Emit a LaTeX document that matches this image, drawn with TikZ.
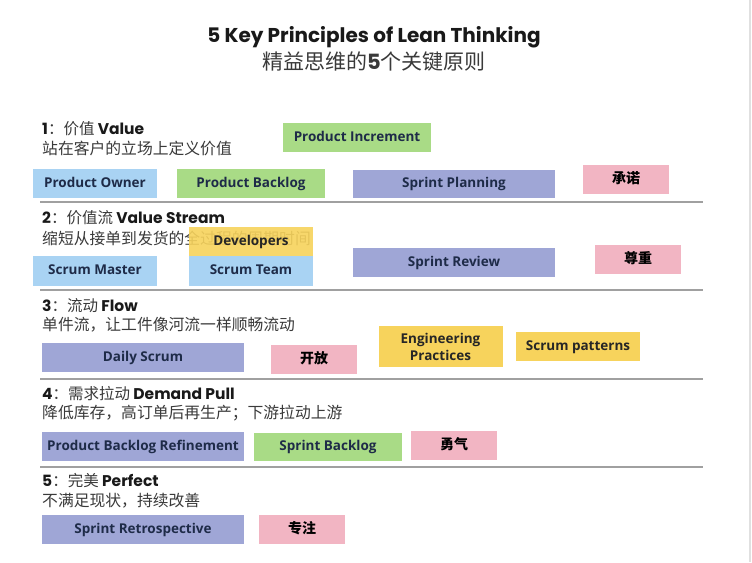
\documentclass[tikz,border=0pt]{standalone}
\usepackage{fontspec}
\setmainfont{Open Sans}
\newfontfamily\pop{Poppins}
\newfontfamily\cjk{Noto Sans CJK SC}
\definecolor{cblue}{HTML}{A9D3F3}
\definecolor{cgreen}{HTML}{A9DB86}
\definecolor{cpurple}{HTML}{9FA6D6}
\definecolor{cpink}{HTML}{F2B5C3}
\definecolor{cyellow}{HTML}{F7D35C}
\definecolor{cnavy}{HTML}{1E2B48}
\definecolor{cline}{HTML}{A0A0A0}
\definecolor{csub}{HTML}{3A3A3A}
\begin{document}
\begin{tikzpicture}[x=1pt,y=-1pt,
  box/.style={inner sep=0pt, minimum height=29pt, text=cnavy, font=\fontsize{13.5}{15}\selectfont\bfseries, align=center},
  one/.style={text height=10pt, text depth=3pt},
  bluebox/.style={box, one, fill=cblue, minimum width=124pt},
  greenbox/.style={box, one, fill=cgreen, minimum width=148pt},
  purplebox/.style={box, one, fill=cpurple, minimum width=202pt},
  pinkbox/.style={box, one, fill=cpink, minimum width=86pt, text=black, font=\cjk\fontsize{14}{15}\selectfont\bfseries},
  yellowbox/.style={box, fill=cyellow, minimum width=124pt, text=black!85},
  head/.style={anchor=west, inner sep=0pt, text=black!90},
  sub/.style={anchor=west, inner sep=0pt, text=csub, font=\cjk\fontsize{15.8}{17}\selectfont},
  sep/.style={draw=cline, line width=1.4pt}
]
\useasboundingbox (0,0) rectangle (752,562);
\fill[white] (0,0) rectangle (752,562);
\draw[black!12, line width=2pt] (750,0) -- (750,562);

% title
\node[inner sep=0pt, text=black!90] (title) at (374,37) {\pop\bfseries\fontsize{20}{24}\selectfont 5 Key Principles of Lean Thinking};
\node[inner sep=0pt, text=csub] (subtitle) at (374,62) {\cjk\fontsize{21}{24}\selectfont 精益思维的{\pop\bfseries 5}个关键原则};

% section 1
\node[head] (h1) at (42,129) {\pop\bfseries\fontsize{15.5}{18}\selectfont 1{\cjk\mdseries\color{csub}：价值} Value};
\node[sub] (s1) at (42,148) {站在客户的立场上定义价值};
\node[greenbox] (pinc) at (357,137.5) {Product Increment};
\node[bluebox] (po) at (95,183.5) {Product Owner};
\node[greenbox] (pb) at (251,183.5) {Product Backlog};
\node[purplebox, minimum height=28pt] (sp) at (454,184) {Sprint Planning};
\node[pinkbox] (cn) at (626,179.5) {承诺};
\coordinate (l1a) at (40,202); \coordinate (l1b) at (703,202);
\draw[sep] (l1a) -- (l1b);

% section 2
\node[head] (h2) at (42,218) {\pop\bfseries\fontsize{15.5}{18}\selectfont 2{\cjk\mdseries\color{csub}：价值流} Value Stream};
\node[sub] (s2) at (42,238) {缩短从接单到发货的全过程的周期时间};
\node[bluebox, minimum height=30pt] (sm) at (95,271) {Scrum Master};
\node[bluebox, minimum height=30pt] (st) at (251,271) {Scrum Team};
\node[yellowbox, one, fill opacity=0.9, text opacity=1] (dev) at (251,241.5) {Developers};
\node[purplebox] (srv) at (454,262.5) {Sprint Review};
\node[pinkbox] (zz) at (638,259.5) {尊重};
\coordinate (l2a) at (40,290); \coordinate (l2b) at (703,290);
\draw[sep] (l2a) -- (l2b);

% section 3
\node[head] (h3) at (42,306) {\pop\bfseries\fontsize{15.5}{18}\selectfont 3{\cjk\mdseries\color{csub}：流动} Flow};
\node[sub] (s3) at (42,325) {单件流，让工件像河流一样顺畅流动};
\node[purplebox] (ds) at (143,357.5) {Daily Scrum};
\node[pinkbox] (kf) at (314,359.5) {开放};
\node[yellowbox, minimum height=41pt, font=\fontsize{13.5}{17}\selectfont\bfseries] (ep) at (440.5,346.5) {Engineering\\Practices};
\node[yellowbox, one] (spat) at (578,346.5) {Scrum patterns};
\coordinate (l3a) at (40,379); \coordinate (l3b) at (703,379);
\draw[sep] (l3a) -- (l3b);

% section 4
\node[head] (h4) at (42,394) {\pop\bfseries\fontsize{15.5}{18}\selectfont 4{\cjk\mdseries\color{csub}：需求拉动} Demand Pull};
\node[sub] (s4) at (42,413) {降低库存，高订单后再生产；下游拉动上游};
\node[purplebox] (pbr) at (143,446.5) {Product Backlog Refinement};
\node[greenbox, minimum height=28pt] (sbl) at (328,447) {Sprint Backlog};
\node[pinkbox] (yq) at (454,445.5) {勇气};
\coordinate (l4a) at (40,467); \coordinate (l4b) at (703,467);
\draw[sep] (l4a) -- (l4b);

% section 5
\node[head] (h5) at (42,481) {\pop\bfseries\fontsize{15.5}{18}\selectfont 5{\cjk\mdseries\color{csub}：完美} Perfect};
\node[sub] (s5) at (42,501) {不满足现状，持续改善};
\node[purplebox] (retro) at (143,529.5) {Sprint Retrospective};
\node[pinkbox] (zhu) at (302,529.5) {专注};
\end{tikzpicture}
\end{document}
